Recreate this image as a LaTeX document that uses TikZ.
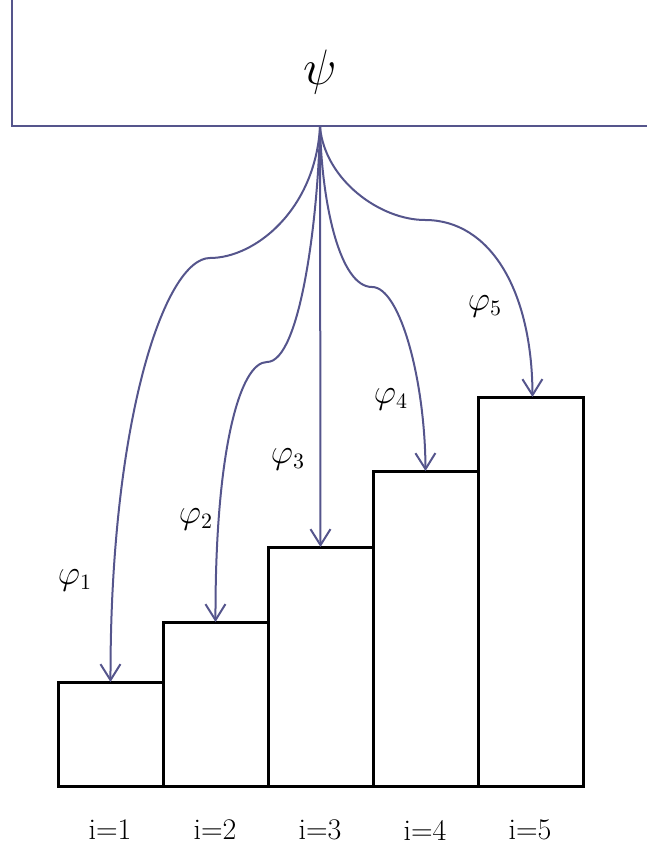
\documentclass[tikz,border=0pt]{standalone}
\usepackage{tikz}
\usetikzlibrary{arrows.meta,positioning}
\definecolor{fleche}{RGB}{85,85,140}

\begin{document}
\begin{tikzpicture}[x=0.5pt, y=-0.5pt,
  barre/.style={rectangle, draw=black, line width=1.5pt, minimum width=52.5pt,
    anchor=south west, inner sep=0pt, outer sep=0pt},
  lien/.style={fleche, line width=1pt, -{Straight Barb[length=8pt,width=10pt]}},
  lab/.style={font=\fontsize{16}{18}\selectfont},
  idx/.style={font=\fontsize{15}{18}\selectfont}
]
  \useasboundingbox (0,0) rectangle (647,849);

  % Top block
  \draw[fleche, line width=1pt] (12,0) |- (647,126);
  \node[font=\fontsize{28}{32}\selectfont] (psi) at (320,72) {$\psi$};
  \coordinate (src) at (320,127);

  % Bars
  \node[barre, minimum height=52pt]    (b1) at (58,786) {};
  \node[barre, minimum height=82pt]    (b2) at (b1.south east) {};
  \node[barre, minimum height=119.5pt] (b3) at (b2.south east) {};
  \node[barre, minimum height=157.5pt] (b4) at (b3.south east) {};
  \node[barre, minimum height=194.5pt] (b5) at (b4.south east) {};

  % Indices
  \node[idx] (i1) at (110,830) {i=1};
  \node[idx] (i2) at (215,830) {i=2};
  \node[idx] (i3) at (320,830) {i=3};
  \node[idx] (i4) at (425,830) {i=4};
  \node[idx] (i5) at (530,830) {i=5};

  % Arrows
  \draw[lien] (src) .. controls (315,210) and (255,258) .. (210,258)
    .. controls (165,258) and (110,420) .. (b1.north);
  \draw[lien] (src) .. controls (318,220) and (300,362) .. (267,362)
    .. controls (240,362) and (215,450) .. (b2.north);
  \draw[lien] (src) -- (b3.north);
  \draw[lien] (src) .. controls (322,205) and (340,287) .. (372,287)
    .. controls (400,287) and (425,380) .. (b4.north);
  \draw[lien] (src) .. controls (325,180) and (380,220) .. (425,220)
    .. controls (490,220) and (532,290) .. ([xshift=1pt]b5.north);

  % Labels
  \node[lab] (p1) at (75,580)  {$\varphi_1$};
  \node[lab] (p2) at (196,519) {$\varphi_2$};
  \node[lab] (p3) at (288,459) {$\varphi_3$};
  \node[lab] (p4) at (391,399) {$\varphi_4$};
  \node[lab] (p5) at (485,306) {$\varphi_5$};
\end{tikzpicture}
\end{document}
